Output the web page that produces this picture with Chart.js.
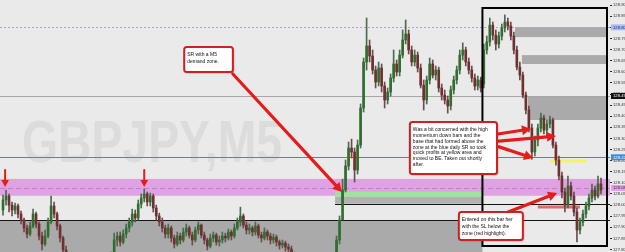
<!DOCTYPE html>
<html>
<head>
<meta charset="utf-8">
<script src="https://cdn.jsdelivr.net/npm/chart.js@4.4.0/dist/chart.umd.min.js"></script>
<style>
  html, body { margin: 0; padding: 0; background: #eaeaea; }
  canvas { display: block; }
</style>
</head>
<body>
<canvas id="myChart" width="625" height="252"></canvas>
<script>
"use strict";

// GBPJPY M5 candles, oldest on the left
var opens = [
  127.978, 128.023, 128.041, 128.000, 127.978, 127.996, 127.960, 127.933, 127.897, 127.870,
  127.906, 127.960, 127.915, 127.861, 127.825, 127.861, 127.924, 127.996, 127.960, 127.906,
  127.852, 127.798, 127.762, 127.730, 127.744, 127.708, 127.681, 127.699, 127.663, 127.640,
  127.672, 127.654, 127.627, 127.663, 127.699, 127.726, 127.753, 127.771, 127.843, 127.861,
  127.834, 127.870, 127.897, 127.924, 127.960, 127.942, 128.005, 128.032, 128.050, 128.014,
  128.041, 127.987, 127.951, 127.924, 127.897, 127.870, 127.897, 127.852, 127.825, 127.861,
  127.843, 127.879, 127.897, 127.865, 127.843, 127.888, 127.910, 127.865, 127.843, 127.816,
  127.852, 127.865, 127.834, 127.843, 127.861, 127.852, 127.879, 127.861, 127.897, 127.924,
  127.951, 127.910, 127.888, 127.897, 127.879, 127.906, 127.865, 127.852, 127.879, 127.861,
  127.843, 127.856, 127.834, 127.820, 127.829, 127.811, 127.802, 127.775, 127.744, 127.717,
  127.735, 127.699, 127.672, 127.690, 127.663, 127.681, 127.708, 127.699, 127.726, 127.717,
  127.744, 127.771, 127.843, 127.933, 128.068, 128.176, 128.257, 128.239, 128.158, 128.270,
  128.437, 128.644, 128.716, 128.671, 128.608, 128.554, 128.617, 128.536, 128.473, 128.509,
  128.572, 128.635, 128.599, 128.675, 128.743, 128.770, 128.698, 128.644, 128.675, 128.617,
  128.540, 128.473, 128.563, 128.635, 128.585, 128.608, 128.527, 128.495, 128.473, 128.446,
  128.518, 128.563, 128.608, 128.675, 128.698, 128.644, 128.608, 128.572, 128.536, 128.563,
  128.545, 128.698, 128.734, 128.810, 128.765, 128.725, 128.761, 128.797, 128.824, 128.806,
  128.761, 128.698, 128.621, 128.585, 128.495, 128.428, 128.347, 128.239, 128.293, 128.347,
  128.392, 128.338, 128.365, 128.383, 128.270, 128.203, 128.131, 128.059, 128.000, 128.086,
  128.041, 127.969, 127.888, 127.924, 127.960, 127.996, 128.032, 128.068, 128.041, 128.095
];
var highs = [
  128.045, 128.068, 128.050, 128.014, 128.009, 128.005, 127.973, 127.942, 127.910, 127.924,
  127.982, 127.969, 127.924, 127.879, 127.888, 127.942, 128.041, 128.014, 127.969, 127.915,
  127.861, 127.816, 127.775, 127.762, 127.757, 127.726, 127.717, 127.717, 127.681, 127.690,
  127.685, 127.667, 127.681, 127.717, 127.744, 127.771, 127.789, 127.874, 127.879, 127.879,
  127.888, 127.915, 127.942, 127.982, 127.978, 128.023, 128.050, 128.072, 128.059, 128.054,
  128.050, 128.000, 127.964, 127.942, 127.910, 127.915, 127.906, 127.865, 127.879, 127.874,
  127.897, 127.915, 127.906, 127.879, 127.901, 127.924, 127.915, 127.879, 127.852, 127.870,
  127.879, 127.874, 127.861, 127.879, 127.874, 127.892, 127.888, 127.915, 127.942, 127.991,
  127.960, 127.924, 127.915, 127.906, 127.924, 127.915, 127.879, 127.897, 127.888, 127.874,
  127.870, 127.865, 127.843, 127.843, 127.838, 127.825, 127.816, 127.789, 127.757, 127.753,
  127.748, 127.717, 127.708, 127.703, 127.699, 127.726, 127.726, 127.744, 127.744, 127.762,
  127.784, 127.861, 127.951, 128.117, 128.203, 128.284, 128.297, 128.257, 128.293, 128.455,
  128.662, 128.842, 128.743, 128.698, 128.626, 128.644, 128.635, 128.554, 128.527, 128.590,
  128.698, 128.653, 128.698, 128.788, 128.833, 128.788, 128.716, 128.698, 128.689, 128.635,
  128.563, 128.581, 128.662, 128.653, 128.626, 128.621, 128.545, 128.518, 128.491, 128.536,
  128.581, 128.626, 128.698, 128.730, 128.711, 128.662, 128.626, 128.590, 128.581, 128.576,
  128.725, 128.761, 128.842, 128.824, 128.788, 128.779, 128.815, 128.856, 128.842, 128.824,
  128.779, 128.716, 128.644, 128.599, 128.509, 128.446, 128.365, 128.311, 128.365, 128.414,
  128.405, 128.383, 128.401, 128.392, 128.284, 128.221, 128.149, 128.077, 128.131, 128.104,
  128.059, 127.987, 127.942, 127.978, 128.014, 128.050, 128.095, 128.086, 128.131, 128.122
];
var lows = [
  127.955, 128.000, 127.969, 127.951, 127.960, 127.942, 127.915, 127.879, 127.852, 127.861,
  127.897, 127.897, 127.843, 127.798, 127.816, 127.852, 127.915, 127.942, 127.888, 127.834,
  127.771, 127.744, 127.708, 127.708, 127.685, 127.663, 127.654, 127.645, 127.627, 127.627,
  127.636, 127.609, 127.618, 127.645, 127.681, 127.708, 127.735, 127.762, 127.816, 127.816,
  127.825, 127.852, 127.879, 127.906, 127.924, 127.933, 127.987, 128.014, 127.996, 127.996,
  127.969, 127.933, 127.906, 127.879, 127.852, 127.852, 127.834, 127.807, 127.816, 127.825,
  127.834, 127.861, 127.852, 127.820, 127.834, 127.870, 127.852, 127.825, 127.798, 127.807,
  127.834, 127.820, 127.816, 127.829, 127.834, 127.843, 127.843, 127.852, 127.888, 127.906,
  127.897, 127.870, 127.870, 127.861, 127.865, 127.852, 127.834, 127.843, 127.843, 127.825,
  127.829, 127.816, 127.802, 127.807, 127.793, 127.780, 127.753, 127.726, 127.699, 127.699,
  127.681, 127.654, 127.654, 127.645, 127.645, 127.663, 127.681, 127.681, 127.699, 127.699,
  127.726, 127.753, 127.825, 127.996, 128.059, 128.158, 128.212, 128.104, 128.140, 128.257,
  128.419, 128.608, 128.644, 128.590, 128.527, 128.536, 128.509, 128.437, 128.455, 128.491,
  128.554, 128.581, 128.581, 128.662, 128.725, 128.680, 128.626, 128.626, 128.599, 128.527,
  128.428, 128.455, 128.545, 128.572, 128.563, 128.509, 128.473, 128.455, 128.414, 128.428,
  128.500, 128.545, 128.590, 128.653, 128.626, 128.590, 128.554, 128.518, 128.518, 128.509,
  128.527, 128.680, 128.716, 128.743, 128.698, 128.707, 128.743, 128.779, 128.788, 128.743,
  128.680, 128.608, 128.563, 128.482, 128.410, 128.329, 128.207, 128.221, 128.266, 128.329,
  128.320, 128.311, 128.347, 128.257, 128.180, 128.113, 128.032, 127.969, 127.987, 128.023,
  127.951, 127.834, 127.870, 127.906, 127.942, 127.978, 128.014, 128.023, 128.032, 128.050
];
var closes = [
  128.023, 128.041, 128.000, 127.978, 127.996, 127.960, 127.933, 127.897, 127.870, 127.906,
  127.960, 127.915, 127.861, 127.825, 127.861, 127.924, 127.996, 127.960, 127.906, 127.852,
  127.798, 127.762, 127.730, 127.744, 127.708, 127.681, 127.699, 127.663, 127.640, 127.672,
  127.654, 127.627, 127.663, 127.699, 127.726, 127.753, 127.771, 127.843, 127.861, 127.834,
  127.870, 127.897, 127.924, 127.960, 127.942, 128.005, 128.032, 128.050, 128.014, 128.041,
  127.987, 127.951, 127.924, 127.897, 127.870, 127.897, 127.852, 127.825, 127.861, 127.843,
  127.879, 127.897, 127.865, 127.843, 127.888, 127.910, 127.865, 127.843, 127.816, 127.852,
  127.865, 127.834, 127.843, 127.861, 127.852, 127.879, 127.861, 127.897, 127.924, 127.951,
  127.910, 127.888, 127.897, 127.879, 127.906, 127.865, 127.852, 127.879, 127.861, 127.843,
  127.856, 127.834, 127.820, 127.829, 127.811, 127.802, 127.775, 127.744, 127.717, 127.735,
  127.699, 127.672, 127.690, 127.663, 127.681, 127.708, 127.699, 127.726, 127.717, 127.744,
  127.771, 127.843, 127.933, 128.068, 128.176, 128.257, 128.239, 128.158, 128.270, 128.437,
  128.644, 128.716, 128.671, 128.608, 128.554, 128.617, 128.536, 128.473, 128.509, 128.572,
  128.635, 128.599, 128.675, 128.743, 128.770, 128.698, 128.644, 128.675, 128.617, 128.540,
  128.473, 128.563, 128.635, 128.585, 128.608, 128.527, 128.495, 128.473, 128.446, 128.518,
  128.563, 128.608, 128.675, 128.698, 128.644, 128.608, 128.572, 128.536, 128.563, 128.527,
  128.698, 128.734, 128.810, 128.765, 128.725, 128.761, 128.797, 128.824, 128.806, 128.761,
  128.698, 128.621, 128.585, 128.495, 128.428, 128.347, 128.239, 128.293, 128.347, 128.392,
  128.338, 128.365, 128.383, 128.270, 128.203, 128.131, 128.059, 128.000, 128.086, 128.041,
  127.969, 127.888, 127.924, 127.960, 127.996, 128.032, 128.068, 128.041, 128.095, 128.068
];

// price axis
var yMin = 127.789;
var yMax = 128.923;
var tickStep = 0.05;

// horizontal lines: [price, colour, dash]
var levels = [
  [128.800, '#a3a8cc', [2, 2]],
  [128.491, '#a6a6a6', []],
  [128.215, '#3a8cd0', []],
  [128.077, '#c47ccb', [5, 3]],
  [127.933, '#151515', []]
];
// rectangles: [from bar, to bar, top price, bottom price, colour]
var zones = [
  [-1, 202, 128.118, 128.042, '#dfa3e3'],
  [-1, 159.55, 127.933, 127.70, '#aaaaaa'],
  [110.5, 159.55, 128.060, 128.037, '#9fe39f'],
  [110.5, 159.55, 128.037, 128.006, '#b2b2b2'],
  [170.4, 201, 128.801, 128.756, '#aaaaaa'],
  [172.7, 201, 128.675, 128.635, '#aaaaaa'],
  [174.7, 201, 128.487, 128.383, '#aaaaaa']
];
// thick highlight strokes: [from bar, to bar, price, colour]
var highlights = [
  [182, 194.3, 128.199, '#f3f36b'],
  [178, 192, 127.992, '#e26a6a']
];
var zoneBaseLine = [110.5, 202, 128.005];
var tradeBox = [159.55, 201, 128.887, 127.816];

var notes = [
  { from: 60.3, to: 76.5, top: 128.712, bottom: 128.599, lineH: 7, lines: ['SR with a M5', 'demand zone.'] },
  { from: 135.4, to: 164.4, top: 128.374, bottom: 128.140, lineH: 5.9, lines: [
    'Was a bit concerned with the high',
    'momentum down bars and the',
    'base that had formed above the',
    'zone at the blue daily SR so took',
    'quick profits at yellow area and',
    'moved to BE. Taken out shortly',
    'after.'] },
  { from: 151.7, to: 173.0, top: 127.969, bottom: 127.843, lineH: 7, lines: [
    'Entered on this bar her',
    'with the SL below the',
    'zone (red highlight).'] }
];
// [from bar, from price, to bar, to price]
var arrows = [
  [76.5, 128.590, 112.8, 128.059],
  [164.7, 128.320, 175.7, 128.343],
  [165.1, 128.288, 184.0, 128.311],
  [165.1, 128.262, 176.4, 128.212],
  [168.1, 127.969, 184.4, 128.054]
];
// small down arrows over the two earlier touches of the zone
var touchArrows = [[0.7, 128.158, 128.081], [47, 128.158, 128.081]];

var axisMarks = [
  [128.800, '#aebcf0', '#1f2f8f'],
  [128.491, '#111111', '#ffffff'],
  [128.215, '#3a8cd0', '#ffffff'],
  [128.077, '#dfa3e3', '#4a1a50']
];

var watermark = 'GBPJPY,M5';


var bodyData = [], wickData = [];
for (var i = 0; i < closes.length; i++) {
    bodyData.push({ x: i, y: [opens[i], closes[i]] });
    wickData.push({ x: i, y: [lows[i], highs[i]] });
}

function candleColor(ctx, up, down) {
    var i = ctx.dataIndex;
    return closes[i] >= opens[i] ? up : down;
}

function drawArrow(ctx, x0, y0, x1, y1, w, head) {
    var a = Math.atan2(y1 - y0, x1 - x0);
    var bx = x1 - Math.cos(a) * head, by = y1 - Math.sin(a) * head;
    var hw = head * 0.55;
    ctx.lineWidth = w;
    ctx.lineCap = 'round';
    ctx.beginPath();
    ctx.moveTo(x0, y0);
    ctx.lineTo(bx, by);
    ctx.stroke();
    ctx.beginPath();
    ctx.moveTo(x1, y1);
    ctx.lineTo(bx + Math.sin(a) * hw, by - Math.cos(a) * hw);
    ctx.lineTo(bx - Math.sin(a) * hw, by + Math.cos(a) * hw);
    ctx.closePath();
    ctx.fill();
}

var drawingsPlugin = {
    id: 'drawings',
    beforeDraw: function (chart) {
        var ctx = chart.ctx;
        ctx.save();
        ctx.fillStyle = '#eaeaea';
        ctx.fillRect(0, 0, chart.width, chart.height);
        ctx.restore();
    },
    beforeDatasetsDraw: function (chart) {
        var ctx = chart.ctx, xs = chart.scales.x, ys = chart.scales.y, area = chart.chartArea;
        ctx.save();
        ctx.beginPath();
        ctx.rect(area.left, area.top, area.right - area.left, area.bottom - area.top);
        ctx.clip();

        // symbol watermark
        ctx.save();
        ctx.font = 'bold 60px "Liberation Sans", Arial, sans-serif';
        ctx.fillStyle = '#dcdcdc';
        var w = ctx.measureText(watermark).width;
        ctx.translate(22, 162);
        ctx.scale(260 / w, 1);
        ctx.fillText(watermark, 0, 0);
        ctx.restore();

        zones.forEach(function (z) {
            var x0 = xs.getPixelForValue(z[0]), x1 = xs.getPixelForValue(z[1]);
            var y0 = ys.getPixelForValue(z[2]), y1 = ys.getPixelForValue(z[3]);
            ctx.fillStyle = z[4];
            ctx.fillRect(x0, y0, x1 - x0, y1 - y0);
        });

        levels.forEach(function (l) {
            var y = Math.round(ys.getPixelForValue(l[0])) + 0.5;
            ctx.strokeStyle = l[1];
            ctx.lineWidth = 1;
            ctx.setLineDash(l[2]);
            ctx.beginPath();
            ctx.moveTo(area.left, y);
            ctx.lineTo(area.right, y);
            ctx.stroke();
        });
        ctx.setLineDash([]);

        var yb = Math.round(ys.getPixelForValue(zoneBaseLine[2])) + 0.5;
        ctx.strokeStyle = '#151515';
        ctx.beginPath();
        ctx.moveTo(xs.getPixelForValue(zoneBaseLine[0]), yb);
        ctx.lineTo(xs.getPixelForValue(zoneBaseLine[1]), yb);
        ctx.stroke();

        highlights.forEach(function (h) {
            var y = ys.getPixelForValue(h[2]);
            ctx.strokeStyle = h[3];
            ctx.lineWidth = 3;
            ctx.beginPath();
            ctx.moveTo(xs.getPixelForValue(h[0]), y);
            ctx.lineTo(xs.getPixelForValue(h[1]), y);
            ctx.stroke();
        });
        ctx.restore();
    },
    afterDatasetsDraw: function (chart) {
        var ctx = chart.ctx, xs = chart.scales.x, ys = chart.scales.y, area = chart.chartArea;
        ctx.save();

        // trade box
        var bx0 = xs.getPixelForValue(tradeBox[0]), bx1 = xs.getPixelForValue(tradeBox[1]);
        var by0 = ys.getPixelForValue(tradeBox[2]), by1 = ys.getPixelForValue(tradeBox[3]);
        ctx.strokeStyle = '#000';
        ctx.lineWidth = 2;
        ctx.strokeRect(bx0, by0, bx1 - bx0, by1 - by0);

        ctx.fillStyle = '#e41c1c';
        ctx.strokeStyle = '#e41c1c';
        touchArrows.forEach(function (t) {
            var x = xs.getPixelForValue(t[0]);
            drawArrow(ctx, x, ys.getPixelForValue(t[1]), x, ys.getPixelForValue(t[2]), 2, 7);
        });
        arrows.forEach(function (a) {
            drawArrow(ctx, xs.getPixelForValue(a[0]), ys.getPixelForValue(a[1]),
                xs.getPixelForValue(a[2]), ys.getPixelForValue(a[3]), 3.2, 9);
        });

        notes.forEach(function (n) {
            var x0 = xs.getPixelForValue(n.from), x1 = xs.getPixelForValue(n.to);
            var y0 = ys.getPixelForValue(n.top), y1 = ys.getPixelForValue(n.bottom);
            ctx.save();
            ctx.shadowColor = 'rgba(0,0,0,0.35)';
            ctx.shadowBlur = 2;
            ctx.shadowOffsetX = 1;
            ctx.shadowOffsetY = 1;
            ctx.fillStyle = '#ffffff';
            ctx.beginPath();
            ctx.roundRect(x0, y0, x1 - x0, y1 - y0, 2.5);
            ctx.fill();
            ctx.restore();
            ctx.strokeStyle = '#d21e1e';
            ctx.lineWidth = 2;
            ctx.beginPath();
            ctx.roundRect(x0, y0, x1 - x0, y1 - y0, 2.5);
            ctx.stroke();
            ctx.fillStyle = '#111';
            ctx.font = '5px "Liberation Sans", Arial, sans-serif';
            ctx.textBaseline = 'middle';
            n.lines.forEach(function (s, k) {
                ctx.fillText(s, x0 + 3, y0 + 7.5 + k * n.lineH);
            });
        });

        // coloured price labels on the axis
        ctx.font = '4.2px "Liberation Sans", Arial, sans-serif';
        ctx.textBaseline = 'middle';
        axisMarks.forEach(function (m) {
            var y = ys.getPixelForValue(m[0]);
            ctx.fillStyle = m[1];
            ctx.fillRect(area.right + 1, y - 3, chart.width - area.right - 1, 6);
            ctx.fillStyle = m[2];
            ctx.fillText(m[0].toFixed(2), area.right + 3, y + 0.3);
        });
        ctx.restore();
    }
};

new Chart(document.getElementById('myChart'), {
    type: 'bar',
    data: {
        datasets: [{
            label: 'body',
            data: bodyData,
            backgroundColor: function (c) { return candleColor(c, '#2f6e2f', '#713030'); },
            borderWidth: 0,
            barThickness: 2,
            grouped: false,
            order: 0
        }, {
            label: 'wick',
            data: wickData,
            backgroundColor: function (c) { return candleColor(c, '#4d6a4d', '#6a4d4d'); },
            borderWidth: 0,
            barThickness: 1,
            grouped: false,
            order: 1
        }]
    },
    options: {
        responsive: false,
        animation: false,
        devicePixelRatio: 1,
        layout: { padding: 0 },
        plugins: { legend: { display: false }, tooltip: { enabled: false } },
        scales: {
            x: { type: 'linear', display: false, min: -1, max: 202, offset: false },
            y: {
                position: 'right',
                min: yMin,
                max: yMax,
                afterFit: function (s) { s.width = 15; s.paddingTop = 0; s.paddingBottom = 0; },
                border: { display: false },
                grid: { drawOnChartArea: false, drawTicks: true, tickLength: 2, color: '#222' },
                ticks: {
                    stepSize: tickStep,
                    includeBounds: false,
                    padding: 1,
                    color: '#333',
                    font: { size: 4.2, family: 'Liberation Sans' },
                    callback: function (v) { return v.toFixed(2); }
                }
            }
        }
    },
    plugins: [drawingsPlugin]
});
</script>
</body>
</html>
